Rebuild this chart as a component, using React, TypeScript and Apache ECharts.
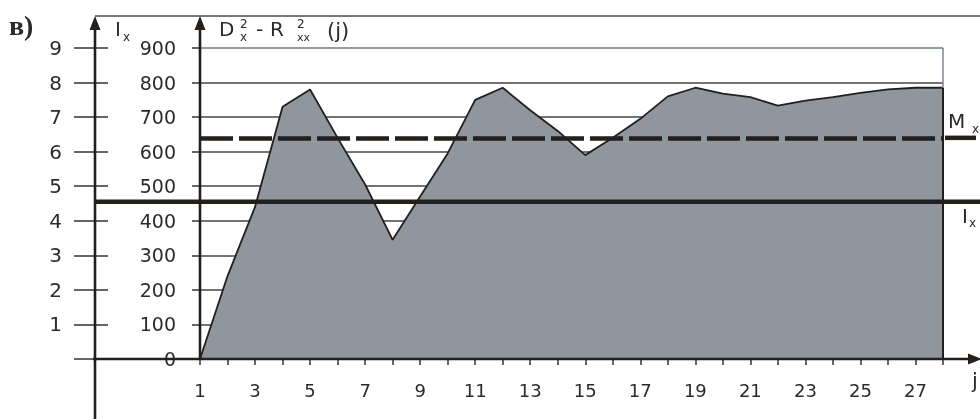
import React, { useEffect, useRef } from "react";
import * as echarts from "echarts";

// ---- data ----
const jValues = [1, 2, 3, 4, 5, 6, 7, 8, 9, 10, 11, 12, 13, 14, 15, 16, 17, 18, 19, 20, 21, 22, 23, 24, 25, 26, 27, 28];
const dValues = [0, 240, 440, 730, 780, 640, 505, 345, 470, 595, 750, 785, 720, 660, 590, 640, 695, 760, 785, 768, 758, 733, 748, 758, 770, 780, 785, 785];
const dTickLabels = ["0", "100", "200", "300", "400", "500", "600", "700", "800", "900"];
const ixTickLabels = ["", "1", "2", "3", "4", "5", "6", "7", "8", "9"];
const xLabelValues = [1, 3, 5, 7, 9, 11, 13, 15, 17, 19, 21, 23, 25, 27];
const IX_LEVEL = 4.55; // I_x on the outer axis
const MX_LEVEL = 6.4; // M_x on the outer axis

const SANS = '"DejaVu Sans", "Liberation Sans", Arial, sans-serif';
const TXT = "#2b2b2b";
const DARK = "#221f1c";

export default function App() {
  const ref = useRef<HTMLDivElement>(null);

  useEffect(() => {
    if (!ref.current) return;
    const chart = echarts.init(ref.current, null, { renderer: "svg" });
    const seriesData = jValues.map((j, i) => [j, dValues[i]]);
    const gridColors = dTickLabels.map((_, i) => (i === dTickLabels.length - 1 ? "#6f7a84" : "#444444"));

    chart.setOption({
      animation: false,
      grid: { left: 200, right: 37, top: 48, bottom: 60, show: false },
      xAxis: {
        type: "value",
        min: 1,
        max: 28,
        interval: 1,
        axisLine: { show: false },
        axisTick: { show: true, length: 6, lineStyle: { color: "#333", width: 1.5 } },
        splitLine: { show: false },
        axisLabel: {
          margin: 22,
          fontSize: 18,
          fontFamily: SANS,
          color: TXT,
          formatter: (v: number) => (xLabelValues.includes(v) ? String(v) : ""),
        },
      },
      yAxis: [
        {
          type: "value",
          min: 0,
          max: 900,
          interval: 100,
          position: "left",
          axisLine: { show: false },
          axisTick: { show: true, length: 8, lineStyle: { color: "#333", width: 1.5 } },
          splitLine: { show: true, lineStyle: { color: gridColors, width: 1.5 } },
          axisLabel: {
            margin: 24,
            fontSize: 19,
            fontFamily: SANS,
            color: TXT,
            formatter: (v: number) => dTickLabels[Math.round(v / 100)] ?? "",
          },
        },
        {
          type: "value",
          min: 0,
          max: 9,
          interval: 1,
          position: "left",
          offset: 105,
          axisLine: { show: false },
          axisTick: { show: true, length: 21, lineStyle: { color: "#333", width: 1.5 } },
          splitLine: { show: false },
          axisLabel: {
            margin: 33,
            fontSize: 20,
            fontFamily: SANS,
            color: TXT,
            formatter: (v: number) => ixTickLabels[Math.round(v)] ?? "",
          },
        },
        {
          type: "value",
          min: 0,
          max: 9,
          interval: 1,
          position: "left",
          offset: 105,
          axisLine: { show: false },
          axisTick: { show: true, inside: true, length: 13, lineStyle: { color: "#333", width: 1.5 } },
          splitLine: { show: false },
          axisLabel: { show: false },
        },
      ],
      series: [
        {
          type: "line",
          data: seriesData,
          xAxisIndex: 0,
          yAxisIndex: 0,
          symbol: "none",
          lineStyle: { color: DARK, width: 1.8 },
          areaStyle: { color: "#8f969d", opacity: 1 },
          z: 3,
          markLine: {
            silent: true,
            symbol: "none",
            label: { show: false },
            data: [
              [
                { coord: [28, 0], lineStyle: { color: DARK, width: 2, type: "solid" } },
                { coord: [28, dValues[dValues.length - 1]] },
              ],
              [
                { coord: [28, dValues[dValues.length - 1]], lineStyle: { color: "#7a8590", width: 1.5, type: "solid" } },
                { coord: [28, 900] },
              ],
              { yAxis: MX_LEVEL * 100, lineStyle: { color: DARK, width: 4.5, type: [33, 6] } },
            ],
          },
        },
      ],
    });

    const yIx = chart.convertToPixel({ yAxisIndex: 1 }, IX_LEVEL) as number;
    const yMx = chart.convertToPixel({ yAxisIndex: 1 }, MX_LEVEL) as number;
    const y0 = chart.convertToPixel({ yAxisIndex: 0 }, 0) as number;
    const xR = chart.convertToPixel({ xAxisIndex: 0 }, 28) as number;
    const xL = chart.convertToPixel({ xAxisIndex: 0 }, 1) as number;
    const xO = xL - 105;

    const line = (x1: number, y1: number, x2: number, y2: number, stroke: string, w: number) => ({
      type: "line",
      z: 100,
      shape: { x1, y1, x2, y2 },
      style: { stroke, lineWidth: w },
    });
    const txt = (x: number, y: number, text: string, size: number, font = SANS, weight = "normal") => ({
      type: "text",
      z: 100,
      x,
      y,
      style: { text, fill: TXT, fontSize: size, fontFamily: font, fontWeight: weight, verticalAlign: "middle", align: "left" },
    });

    chart.setOption({
      graphic: [
        line(xO, 16, 980, 16, "#4a4a4a", 1.5),
        line(xO, 24, xO, 419, DARK, 2.6),
        line(xL, 24, xL, y0, DARK, 2.6),
        line(xO - 2, y0, 970, y0, DARK, 2.6),
        { type: "polygon", z: 101, shape: { points: [[xO, 16], [xO - 5.5, 30], [xO + 5.5, 30]] }, style: { fill: DARK } },
        { type: "polygon", z: 101, shape: { points: [[xL, 16], [xL - 5.5, 30], [xL + 5.5, 30]] }, style: { fill: DARK } },
        { type: "polygon", z: 101, shape: { points: [[982, y0], [968, y0 - 5.5], [968, y0 + 5.5]] }, style: { fill: DARK } },
        line(xO, yIx, 980, yIx, DARK, 4.5),
        line(xR + 2, yMx, 976, yMx, DARK, 4.5),
        // labels
        txt(9, 25, "в)", 28, '"Liberation Serif", "DejaVu Serif", serif', "bold"),
        txt(115, 29, "I", 20),
        txt(123, 37, "x", 12),
        txt(219, 29, "D", 20),
        txt(240, 24, "2", 12),
        txt(240, 37, "x", 12),
        txt(256, 29, "-", 20),
        txt(270, 29, "R", 20),
        txt(297, 24, "2", 12),
        txt(297, 37, "xx", 11),
        txt(327, 31, "(j)", 21),
        txt(948, 121, "M", 20),
        txt(972, 129, "x", 12),
        txt(962, 216, "I", 20),
        txt(969, 223, "x", 12),
        txt(972, 381, "j", 21),
      ],
    });

    return () => chart.dispose();
  }, []);

  return <div ref={ref} style={{ position: "fixed", left: 0, top: 0, width: 980, height: 419 }} />;
}
